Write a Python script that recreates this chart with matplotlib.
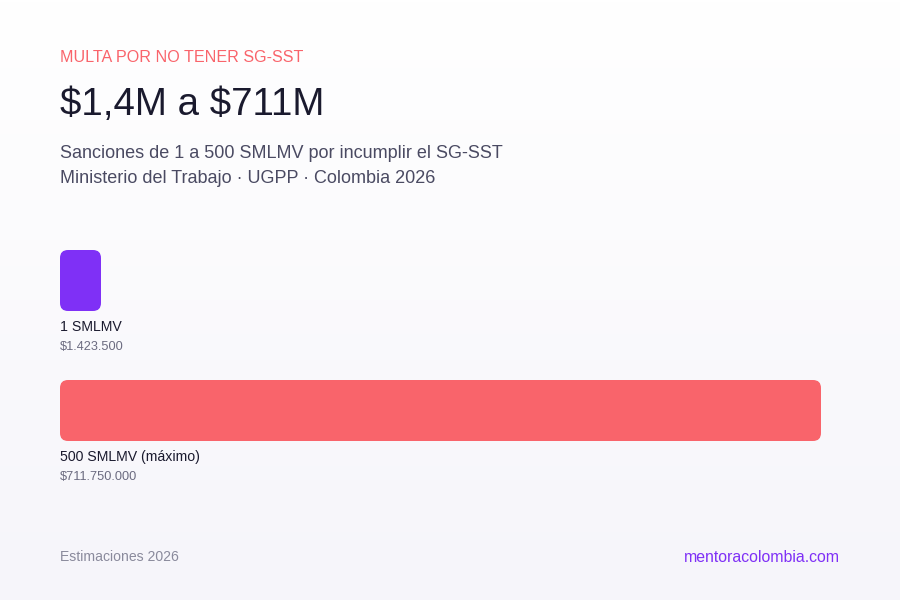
import numpy as np
import matplotlib
matplotlib.use("Agg")
import matplotlib.pyplot as plt
from matplotlib.patches import FancyBboxPatch

# ---- data ----
categories = ["1 SMLMV", "500 SMLMV (máximo)"]
smlmv_values = [1, 500]
value_labels = ["$1.423.500", "$711.750.000"]
bar_colors = ["#7f30f6", "#f9646b"]

eyebrow = "MULTA POR NO TENER SG-SST"
title = "$1,4M a $711M"
subtitle_lines = ["Sanciones de 1 a 500 SMLMV por incumplir el SG-SST",
                  "Ministerio del Trabajo · UGPP · Colombia 2026"]
footer_left = "Estimaciones 2026"
footer_right = "mentoracolombia.com"

plt.rcParams['font.family'] = ['Liberation Sans', 'DejaVu Sans']
plt.rcParams['text.parse_math'] = False

W, H = 900, 600
fig = plt.figure(figsize=(9, 6), dpi=100)

# background gradient axes (pixel coordinates)
bg = fig.add_axes([0, 0, 1, 1])
bg.set_xlim(0, W)
bg.set_ylim(H, 0)
bg.axis('off')
top = np.array([1.0, 1.0, 1.0])
bot = np.array([0xf6, 0xf5, 0xfa]) / 255
t = np.linspace(0, 1, 300)[:, None]
grad = (top[None, :] * (1 - t) + bot[None, :] * t)[:, None, :]
grad = np.repeat(grad, 2, axis=1)
bg.imshow(grad, extent=[0, W, H, 0], aspect='auto', zorder=0)

# texts
bg.text(60, 57, eyebrow, fontsize=11.6, color="#f9646b", va='center', ha='left', parse_math=False)
bg.text(60, 115, title, fontsize=27.7, color="#1a1a2e", va='baseline', ha='left', parse_math=False)
bg.text(60, 158, subtitle_lines[0], fontsize=13, color="#4a4a62", va='baseline', ha='left')
bg.text(60, 183, subtitle_lines[1], fontsize=13, color="#4a4a62", va='baseline', ha='left')
bg.text(60, 561, footer_left, fontsize=10.1, color="#8a8a9c", va='baseline', ha='left')
bg.text(840, 562, footer_right, fontsize=11.45, color="#7f30f6", va='baseline', ha='right')

# bar axes: x in SMLMV units spanning px 60..821, y in pixels
x0_px, x1_px = 60, 821
ax = fig.add_axes([x0_px / W, 0, (x1_px - x0_px) / W, 1])
ax.set_xlim(0, max(smlmv_values))
ax.set_ylim(H, 0)
ax.axis('off')
ax.patch.set_alpha(0)

units_per_px = max(smlmv_values) / (x1_px - x0_px)
min_width = 41 * units_per_px   # minimum visible bar width
radius_px = 8
bar_h = 61
bar_tops = [250, 380]

for i, (cat, v, lab, col, yt) in enumerate(zip(categories, smlmv_values, value_labels, bar_colors, bar_tops)):
    w = max(v, min_width)
    p = FancyBboxPatch((0, yt), w, bar_h,
                       boxstyle=f"round,pad=0,rounding_size={radius_px * units_per_px}",
                       mutation_aspect=1 / units_per_px,
                       facecolor=col, edgecolor='none', zorder=2)
    ax.add_patch(p)
    ax.text(0, yt + 81, cat, fontsize=10.2, color="#1a1a2e", va='baseline', ha='left', parse_math=False)
    ax.text(0, yt + 100, lab, fontsize=9.2, color="#6b6b80", va='baseline', ha='left', parse_math=False)

fig.savefig("out.png", dpi=100)
